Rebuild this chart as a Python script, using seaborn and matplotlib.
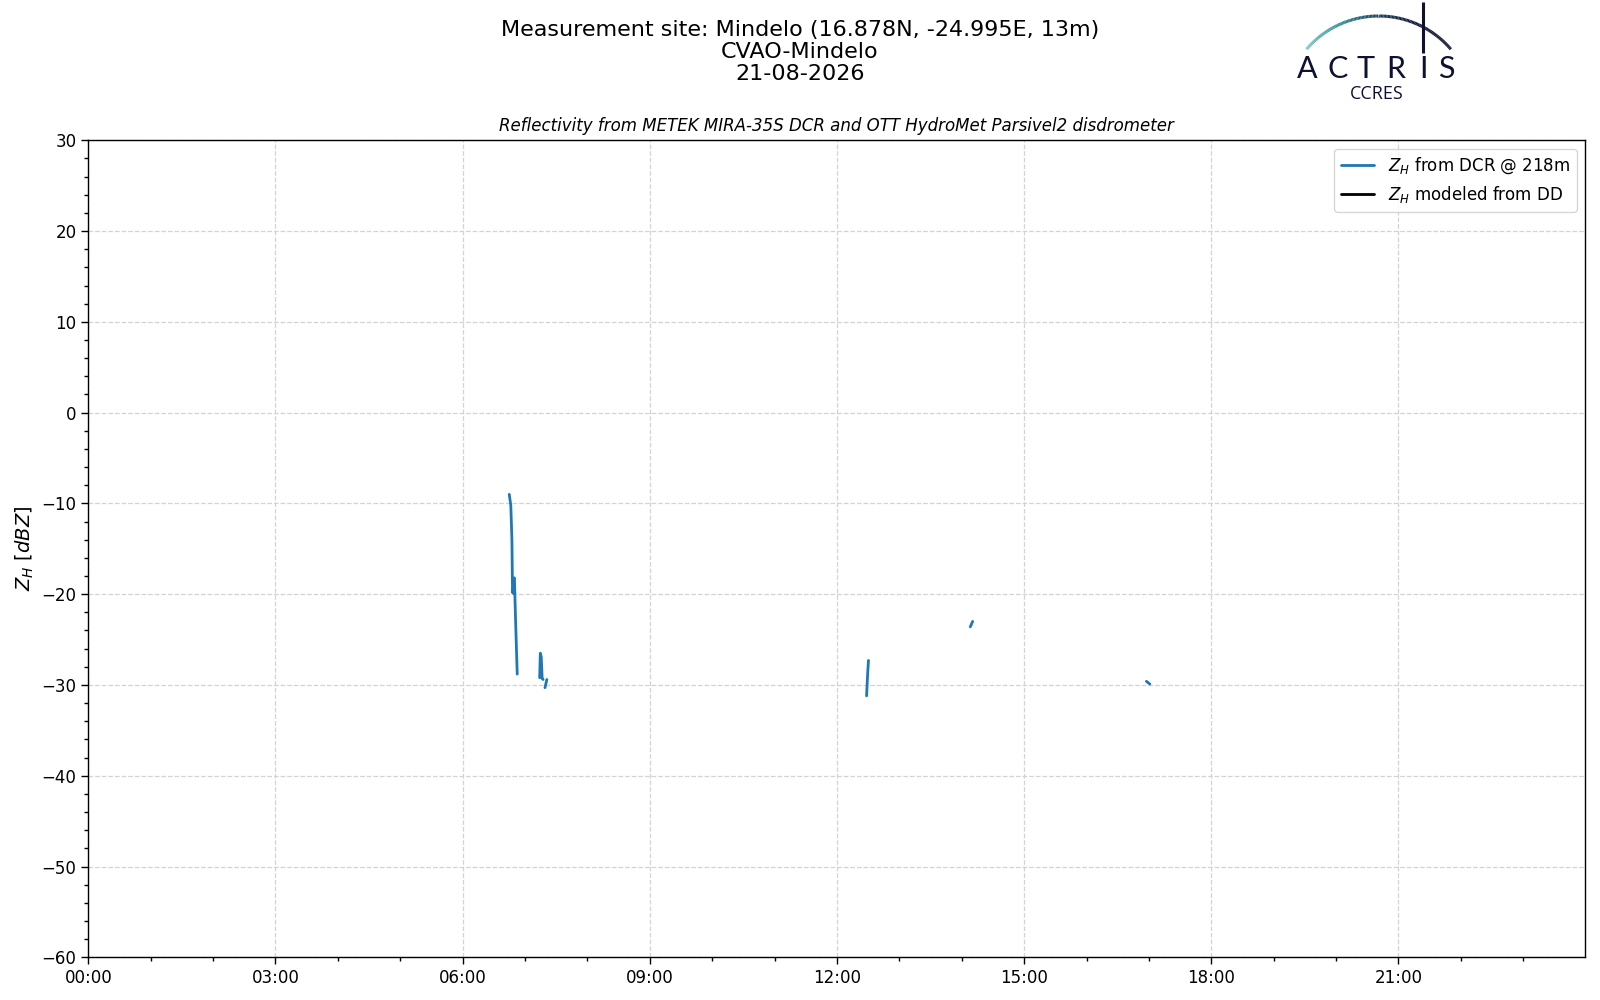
import numpy as np
import pandas as pd
import matplotlib
matplotlib.use("Agg")
import matplotlib.pyplot as plt
import matplotlib.ticker as mticker
from matplotlib.collections import LineCollection
from matplotlib.colors import LinearSegmentedColormap
import seaborn as sns

# radar reflectivity at 218 m, hours of day / dBZ, one list per contiguous piece
dcr_seg = [1, 1, 1, 1, 1, 1, 1, 1, 1,
           2, 2, 2, 2, 2,
           3, 3,
           4, 4, 4,
           5, 5,
           6, 6]
dcr_hour = [6.747, 6.772, 6.790, 6.800, 6.810, 6.818, 6.830, 6.845, 6.875,
            7.235, 7.245, 7.260, 7.275, 7.290,
            7.320, 7.350,
            12.475, 12.490, 12.505,
            14.137, 14.175,
            16.960, 17.015]
dcr_z = [-9.0, -10.2, -14.0, -19.8, -19.9, -18.3, -18.2, -22.0, -28.8,
         -29.2, -26.5, -26.9, -29.3, -29.4,
         -30.3, -29.4,
         -31.2, -29.0, -27.3,
         -23.6, -23.0,
         -29.6, -29.9]

# disdrometer-modeled reflectivity (no values on this day)
dd_hour = []
dd_z = []

site_title = "Measurement site: Mindelo (16.878N, -24.995E, 13m)\nCVAO-Mindelo\n21-08-2026"
sub_title = "Reflectivity from METEK MIRA-35S DCR and OTT HydroMet Parsivel2 disdrometer"

dcr = pd.DataFrame({"seg": dcr_seg, "hour": dcr_hour, "z": dcr_z})

sns.set_style("ticks")
plt.rcParams["font.family"] = ["DejaVu Sans"]
plt.rcParams.update({"text.color": "black", "axes.labelcolor": "black",
                     "xtick.color": "black", "ytick.color": "black"})

fig = plt.figure(figsize=(16, 10), dpi=100)
ax = fig.add_axes([88.3 / 1600, 1 - 957.3 / 1000, (1585 - 88.3) / 1600, (957.3 - 140.3) / 1000])

sns.lineplot(data=dcr, x="hour", y="z", units="seg", estimator=None,
             color="#1f77b4", lw=2, ax=ax, legend=False)
ax.plot(dd_hour, dd_z, color="black", lw=2)

h_dcr = plt.Line2D([], [], color="#1f77b4", lw=2)
h_dd = plt.Line2D([], [], color="black", lw=2)
ax.legend([h_dcr, h_dd], [r"$Z_H$ from DCR @ 218m", r"$Z_H$ modeled from DD"],
          loc="upper right", fontsize=12, frameon=True, fancybox=True,
          framealpha=0.8, edgecolor="#cccccc")

ax.set_xlim(0, 23.99)
ax.set_ylim(-60, 30)
ax.xaxis.set_major_locator(mticker.MultipleLocator(3))
ax.xaxis.set_minor_locator(mticker.MultipleLocator(1))
ax.xaxis.set_major_formatter(mticker.FuncFormatter(lambda v, p: "%02d:00" % int(round(v))))
ax.yaxis.set_major_locator(mticker.MultipleLocator(10))
ax.yaxis.set_minor_locator(mticker.MultipleLocator(2))
ax.yaxis.set_major_formatter(mticker.FuncFormatter(lambda v, p: ("%d" % v).replace("-", "\u2212")))
ax.tick_params(axis="both", which="major", labelsize=12, length=5, width=1, color="black")
ax.tick_params(axis="both", which="minor", length=3, width=1, color="black")
for s in ax.spines.values():
    s.set_color("black")
    s.set_linewidth(1)
ax.grid(True, which="major", ls="--", color="#d3d3d3", lw=0.9)
ax.set_axisbelow(True)
ax.set_xlabel("")
ax.set_ylabel(r"$Z_H$ [$dBZ$]", fontsize=14)
ax.set_title(sub_title, fontsize=12, style="italic", pad=7)

fig.text(0.5, 1 - 52 / 1000, site_title, ha="center", va="center",
         fontsize=16, linespacing=1.1)

# ACTRIS / CCRES logo
lx0, lx1, ly0, ly1 = 1285, 1465, 0, 105
lax = fig.add_axes([lx0 / 1600, 1 - ly1 / 1000, (lx1 - lx0) / 1600, (ly1 - ly0) / 1000])
lax.set_xlim(lx0, lx1)
lax.set_ylim(ly1, ly0)
lax.axis("off")
navy = "#0d1233"
cx, cy, r = 1378.7, 111.0, 95.0
a0 = np.arctan2(cy - 49.3, 1306.7 - cx)
a1 = np.arctan2(cy - 49.3, 1450.7 - cx)
ang = np.linspace(a0, a1, 120)
px = cx + r * np.cos(ang)
py = cy - r * np.sin(ang)
pts = np.column_stack([px, py]).reshape(-1, 1, 2)
segs = np.concatenate([pts[:-1], pts[1:]], axis=1)
cmap = LinearSegmentedColormap.from_list("actris", ["#7cc7c3", "#2f8f96", "#173a55", navy, navy])
lc = LineCollection(segs, cmap=cmap, linewidths=2.2)
lc.set_array(np.linspace(0, 1, len(segs)))
lax.add_collection(lc)
lax.plot([1423.3, 1423.3], [2, 53], color=navy, lw=2.2, solid_capstyle="butt")
for ch, xc in zip("ACTRIS", [1307.5, 1338, 1366, 1396, 1423, 1446.7]):
    lax.text(xc, 78.3, ch, ha="center", va="baseline", fontsize=22,
             family="Lato", color=navy)
lax.text(1376.5, 99, "CCRES", ha="center", va="baseline", fontsize=13,
         family="Open Sans", color=navy)

fig.savefig("out.png", dpi=100)
